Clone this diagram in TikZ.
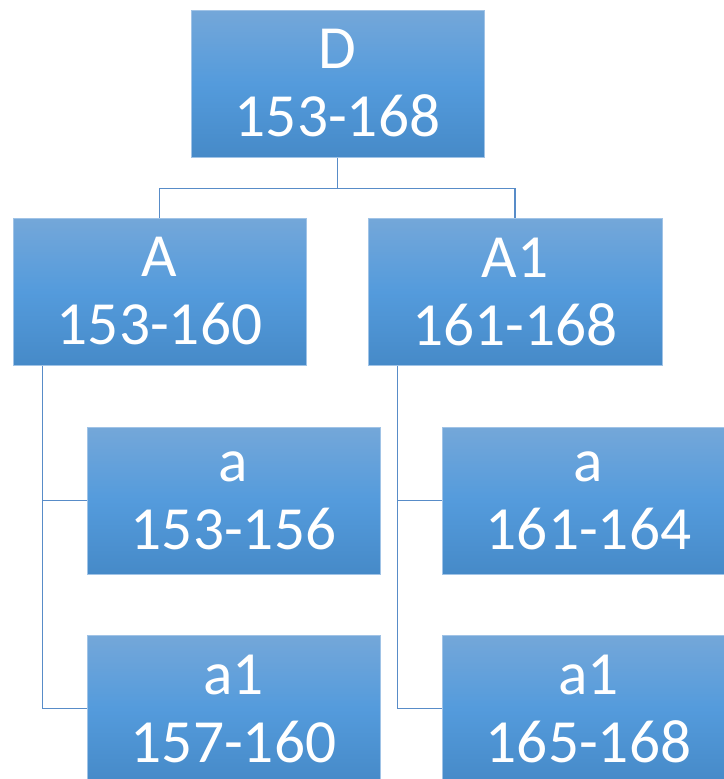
\documentclass[tikz,border=0pt]{standalone}
\usepackage{fontspec}
\setmainfont{Carlito}
\usetikzlibrary{backgrounds}
\definecolor{boxtop}{RGB}{116,167,217}
\definecolor{boxmid}{RGB}{84,155,220}
\definecolor{boxbot}{RGB}{70,138,200}
\definecolor{boxedge}{RGB}{160,195,230}
\definecolor{linkblue}{RGB}{88,140,200}
\tikzset{
  unitbox/.style={rectangle, draw=boxedge, line width=0.5pt,
    top color=boxtop, bottom color=boxbot, middle color=boxmid,
    minimum width=219.75pt, minimum height=110.25pt, inner sep=0pt,
    align=center, text=white,
    font=\fontsize{46}{51}\selectfont},
  link/.style={draw=linkblue, line width=1pt}
}
\begin{document}
\begin{tikzpicture}[x=0.75pt,y=0.75pt,yscale=-1,xscale=1]
\useasboundingbox (0,0) rectangle (724,779);

% Boxes
\node [unitbox] (D) at (337.5,83.5) {D\\153-168};
\node [unitbox] (A) at (159.5,291.5) {A\\153-160};
\node [unitbox, minimum width=220.5pt] (A1) at (515,291.5) {A1\\161-168};
\node [unitbox] (a) at (233.5,500.5) {a\\153-156};
\node [unitbox] (a1) at (233.5,708.5) {a1\\157-160};
\node [unitbox] (b) at (588.5,500.5) {a\\161-164};
\node [unitbox] (b1) at (588.5,708.5) {a1\\165-168};

% Links
\begin{scope}[on background layer]
\draw [link] (D.south) -- ++(0,31) coordinate (bus) -| (A.north);
\draw [link] (bus) -| (A1.north);
\draw [link] (A.south west) ++(30,0) coordinate (Ltrunk) |- (a.west);
\draw [link] (Ltrunk) |- (a1.west);
\draw [link] (A1.south west) ++(30,0) coordinate (Rtrunk) |- (b.west);
\draw [link] (Rtrunk) |- (b1.west);
\end{scope}

\end{tikzpicture}
\end{document}
